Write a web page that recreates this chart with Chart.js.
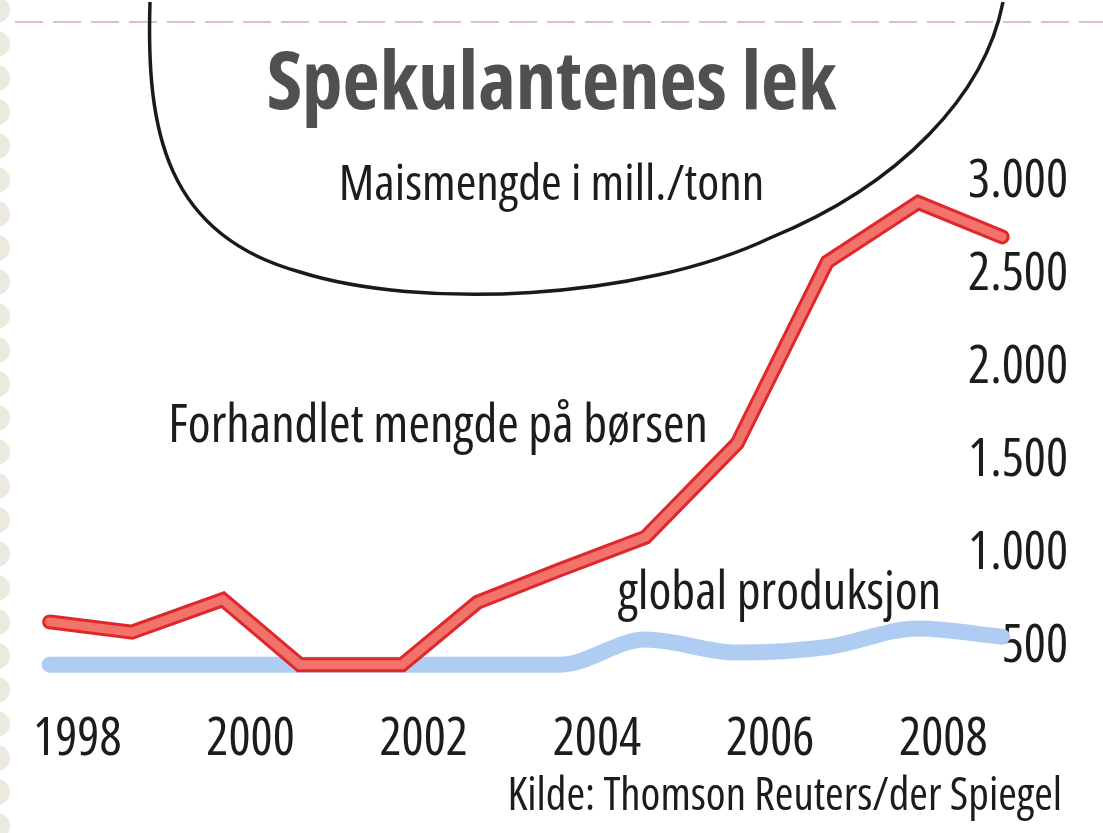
<!DOCTYPE html>
<html>
<head>
<meta charset="utf-8">
<title>Spekulantenes lek</title>
<script src="https://cdn.jsdelivr.net/npm/chart.js@4.4.1/dist/chart.umd.min.js"></script>
<style>
  html, body { margin: 0; padding: 0; background: #fff; }
  #wrap { width: 1103px; height: 833px; position: relative; }
</style>
</head>
<body>
<div id="wrap"><canvas id="myChart"></canvas></div>
<script>
// x positions (year) of each reading
const years = [1997.68, 1998.63, 1999.68, 2000.57, 2001.75, 2002.62, 2003.57, 2004.56, 2005.62, 2006.66, 2007.71, 2008.68];
// mill. tonn
const traded = [635, 580, 755, 405, 405, 740, 915, 1090, 1595, 2570, 2890, 2705];
const production = [405, 405, 405, 405, 405, 405, 405, 540, 470, 500, 600, 555];

const xTicks = [1998, 2000, 2002, 2004, 2006, 2008];
const yTicks = [500, 1000, 1500, 2000, 2500, 3000];
const yTickLabels = ["500", "1.000", "1.500", "2.000", "2.500", "3.000"];

// Open Sans is installed with a width axis, "condensed" gives the newspaper look
const FONT = "'Open Sans', 'DejaVu Sans Condensed', sans-serif";
const COND = "condensed";
const INK = "#1c1c1c";

// line labels, placed in data units
const notes = [
  { text: "Forhandlet mengde på børsen", x: 1999.05, y: 1683 },
  { text: "global produksjon", x: 2004.24, y: 785 },
];

function points(values) {
  return values.map((v, i) => ({ x: years[i], y: v }));
}

const decor = {
  id: "decor",
  beforeDraw(chart) {
    const ctx = chart.ctx;
    ctx.save();
    ctx.fillStyle = "#fff";
    ctx.fillRect(0, 0, chart.width, chart.height);

    // scalloped paper edge on the left
    ctx.fillStyle = "#ece9de";
    for (let y = 10; y < chart.height; y += 34) {
      ctx.beginPath();
      ctx.arc(-3, y, 13, 0, Math.PI * 2);
      ctx.fill();
    }

    // faint dashed rule at the top
    ctx.strokeStyle = "rgba(200, 150, 165, 0.6)";
    ctx.lineWidth = 2;
    ctx.setLineDash([28, 10]);
    ctx.beginPath();
    ctx.moveTo(15, 22);
    ctx.lineTo(chart.width, 22);
    ctx.stroke();
    ctx.setLineDash([]);

    // hand drawn loop round the heading
    ctx.beginPath();
    ctx.moveTo(150, 2);
    ctx.bezierCurveTo(146, 130, 165, 235, 300, 272);
    ctx.bezierCurveTo(420, 310, 640, 300, 770, 238);
    ctx.bezierCurveTo(900, 185, 985, 95, 1003, 2);
    ctx.lineWidth = 3.5;
    ctx.strokeStyle = "#1a1a1a";
    ctx.stroke();
    ctx.restore();
  },
  afterDraw(chart) {
    const { ctx, scales: { x, y } } = chart;
    ctx.save();
    ctx.fillStyle = INK;
    ctx.textBaseline = "middle";
    ctx.textAlign = "left";
    ctx.font = COND + " 52px " + FONT;
    notes.forEach(n => ctx.fillText(n.text, x.getPixelForValue(n.x), y.getPixelForValue(n.y)));
    ctx.font = COND + " 45px " + FONT;
    ctx.textAlign = "right";
    ctx.fillText("Kilde: Thomson Reuters/der Spiegel", 1062, 797);
    ctx.restore();
  },
};

const lineBase = {
  pointRadius: 0,
  pointHoverRadius: 0,
  tension: 0,
  clip: false,
  borderCapStyle: "round",
  borderJoinStyle: "miter",
};

const data = {
  datasets: [
    {
      ...lineBase,
      label: "Forhandlet mengde på børsen",
      data: points(traded),
      borderColor: "#f2736a",
      borderWidth: 9,
    },
    {
      ...lineBase,
      label: "Forhandlet mengde (kant)",
      data: points(traded),
      borderColor: "#e0272c",
      borderWidth: 15,
    },
    {
      ...lineBase,
      label: "global produksjon",
      data: points(production),
      borderColor: "#afcdf3",
      borderWidth: 16,
      cubicInterpolationMode: "monotone",
    },
  ],
};

const config = {
  type: "line",
  data: data,
  plugins: [decor],
  options: {
    responsive: true,
    maintainAspectRatio: false,
    animation: false,
    events: [],
    layout: { padding: { left: 0, right: 0, top: 0, bottom: 46.5 } },
    plugins: {
      legend: { display: false },
      tooltip: { enabled: false },
      title: {
        display: true,
        text: "Spekulantenes lek",
        color: "#505050",
        font: { family: FONT, size: 81, weight: "bold " + COND, lineHeight: 1 },
        padding: { top: 45.5, bottom: 0 },
      },
      subtitle: {
        display: true,
        text: "Maismengde i mill./tonn",
        color: INK,
        font: { family: FONT, size: 50, weight: COND, lineHeight: 1 },
        padding: { top: 34, bottom: -47.1 },
      },
    },
    scales: {
      x: {
        type: "linear",
        min: 1997.107,
        max: 2008.793,
        grid: { display: false, drawTicks: false },
        border: { display: false },
        afterBuildTicks: s => { s.ticks = xTicks.map(v => ({ value: v })); },
        ticks: {
          color: INK,
          font: { family: FONT, size: 52, weight: COND, lineHeight: 1 },
          padding: 20.5,
          maxRotation: 0,
          autoSkip: false,
          callback: v => String(v),
        },
      },
      y: {
        type: "linear",
        position: "right",
        min: 250,
        max: 3100,
        grid: { display: false, drawTicks: false },
        border: { display: false },
        afterBuildTicks: s => { s.ticks = yTicks.map(v => ({ value: v })); },
        afterFit: s => { s.width = 91; },
        ticks: {
          mirror: true,
          padding: 56,
          color: INK,
          font: { family: FONT, size: 52, weight: COND, lineHeight: 1 },
          autoSkip: false,
          callback: v => yTickLabels[yTicks.indexOf(v)],
        },
      },
    },
  },
};

new Chart(document.getElementById("myChart"), config);
</script>
</body>
</html>
